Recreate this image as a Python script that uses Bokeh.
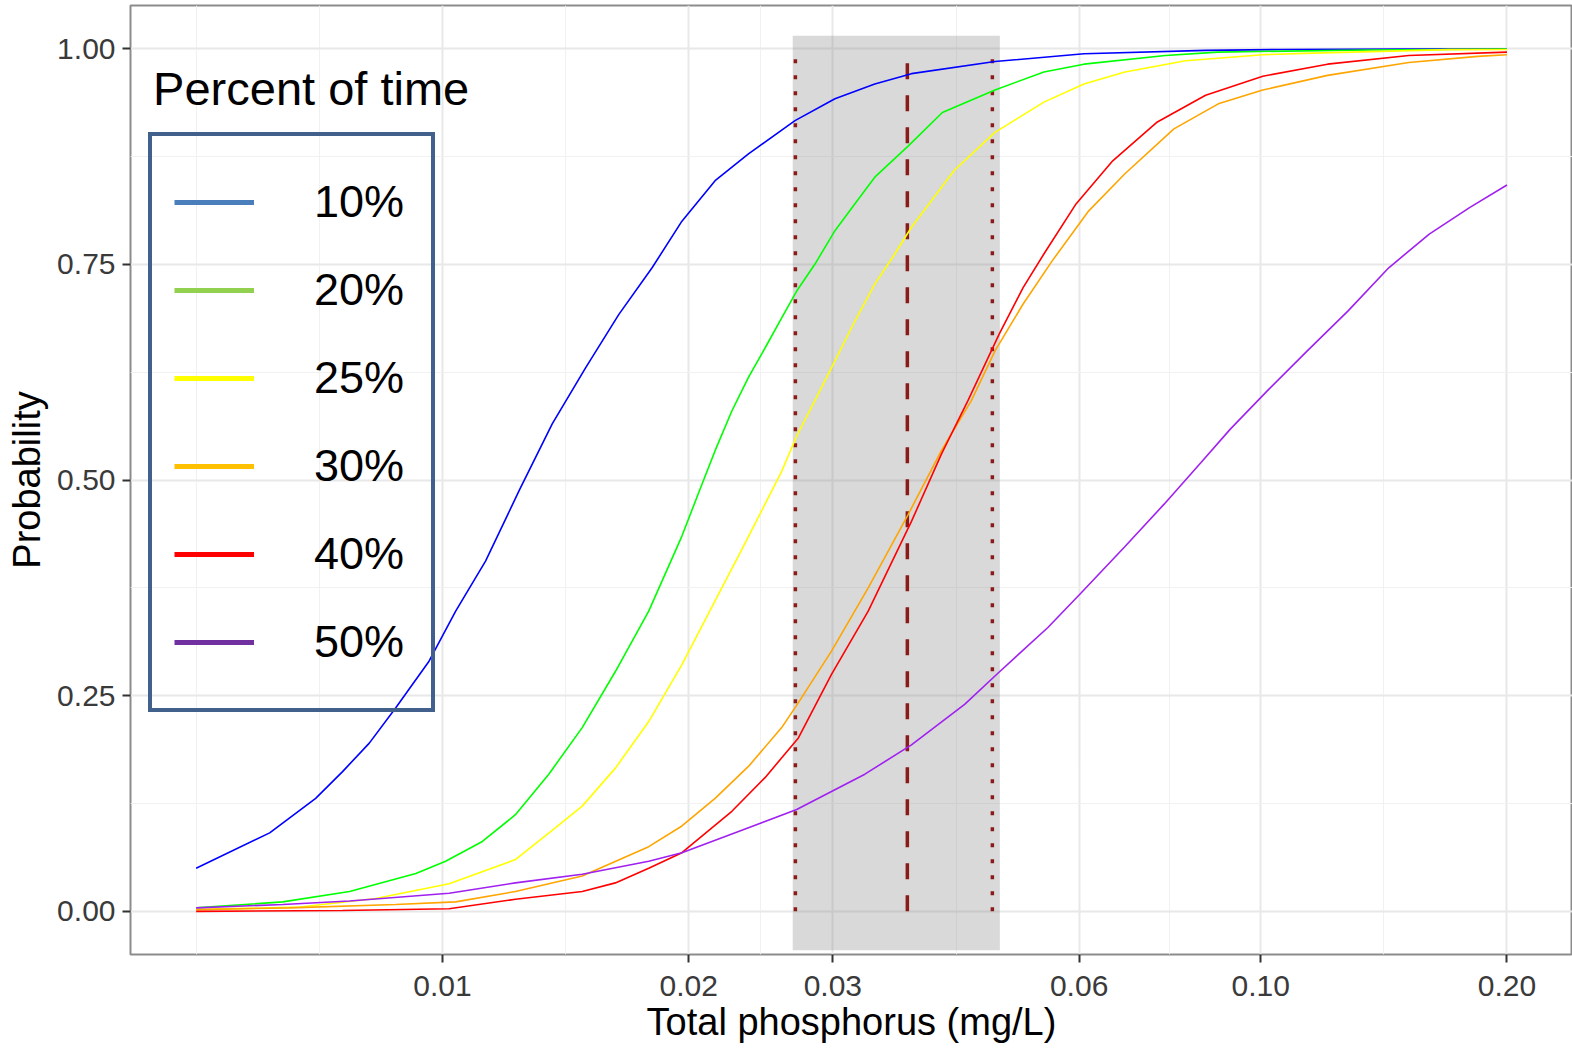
from bokeh.plotting import figure
from bokeh.models import (Range1d, FixedTicker, PrintfTickFormatter, Legend, LegendItem,
                          Label)
from bokeh.embed import file_html
from bokeh.resources import INLINE

# ---------------- data ----------------
series_names = ["10%", "20%", "25%", "30%", "40%", "50%"]

blue_x = [0.005, 0.00615, 0.0070, 0.00755, 0.00814, 0.00877, 0.00963, 0.01038, 0.01129, 0.0124,
          0.01362, 0.01496, 0.01643, 0.01804, 0.01962, 0.02154, 0.02366, 0.02697, 0.03018, 0.03376,
          0.03743, 0.04735, 0.06082, 0.08565, 0.1058, 0.15, 0.2]
blue_y = [0.050, 0.091, 0.131, 0.162, 0.195, 0.236, 0.290, 0.348, 0.406, 0.487,
          0.565, 0.630, 0.692, 0.746, 0.800, 0.847, 0.878, 0.9165, 0.942, 0.959,
          0.971, 0.985, 0.994, 0.998, 0.999, 0.9995, 0.9998]

green_x = [0.005, 0.00638, 0.0077, 0.00928, 0.01009, 0.01119, 0.01228, 0.01349, 0.01482, 0.01627,
           0.01787, 0.01962, 0.02056, 0.02154, 0.02258, 0.02366, 0.02479, 0.02598, 0.0271, 0.02852,
           0.03018, 0.03191, 0.03376, 0.03708, 0.04083, 0.04735, 0.05433, 0.06082, 0.07651, 0.08864,
           0.1354, 0.2]
green_y = [0.004, 0.011, 0.023, 0.044, 0.058, 0.081, 0.112, 0.159, 0.213, 0.278,
           0.348, 0.435, 0.485, 0.534, 0.580, 0.619, 0.653, 0.688, 0.719, 0.750,
           0.789, 0.820, 0.851, 0.887, 0.926, 0.952, 0.973, 0.982, 0.992, 0.996,
           0.9985, 0.9995]

yellow_x = [0.005, 0.0067, 0.00829, 0.01019, 0.01228, 0.01375, 0.01482, 0.01627, 0.01787, 0.01962,
            0.02195, 0.02301, 0.02479, 0.02598, 0.0271, 0.02852, 0.03018, 0.03191, 0.03376, 0.03571,
            0.03743, 0.04223, 0.04735, 0.05433, 0.06082, 0.06825, 0.08096, 0.1006, 0.1128, 0.17, 0.2]
yellow_y = [0.002, 0.005, 0.015, 0.032, 0.060, 0.097, 0.122, 0.166, 0.220, 0.286,
            0.375, 0.412, 0.472, 0.510, 0.551, 0.592, 0.638, 0.684, 0.727, 0.762,
            0.793, 0.859, 0.903, 0.938, 0.959, 0.973, 0.986, 0.993, 0.9945, 0.9988, 0.9990]

orange_x = [0.005, 0.0065, 0.00877, 0.01038, 0.01228, 0.01482, 0.01787, 0.01962, 0.02154, 0.02366,
            0.02598, 0.02723, 0.0299, 0.03314, 0.03708, 0.04072, 0.0443, 0.04737, 0.05125, 0.05562,
            0.06165, 0.06825, 0.07834, 0.08876, 0.1006, 0.1207, 0.1517, 0.1842, 0.2]
orange_y = [0.002, 0.004, 0.008, 0.011, 0.023, 0.041, 0.075, 0.099, 0.131, 0.168,
            0.213, 0.242, 0.302, 0.375, 0.460, 0.534, 0.592, 0.650, 0.704, 0.754,
            0.812, 0.855, 0.907, 0.936, 0.952, 0.969, 0.984, 0.991, 0.993]

red_x = [0.005, 0.00755, 0.01019, 0.01228, 0.01482, 0.01627, 0.01787, 0.01962, 0.02258, 0.02479,
         0.02723, 0.0299, 0.03314, 0.03743, 0.04072, 0.04388, 0.04791, 0.05125, 0.05433, 0.05948,
         0.06595, 0.07477, 0.08565, 0.1006, 0.1207, 0.1517, 0.2]
red_y = [0.000, 0.001, 0.003, 0.014, 0.023, 0.033, 0.050, 0.068, 0.116, 0.155,
         0.201, 0.275, 0.348, 0.452, 0.530, 0.592, 0.669, 0.723, 0.762, 0.820,
         0.870, 0.915, 0.946, 0.968, 0.982, 0.992, 0.996]

purple_x = [0.005, 0.00638, 0.0077, 0.01019, 0.01228, 0.01482, 0.01787, 0.01962, 0.02366, 0.0271,
            0.03283, 0.03743, 0.04347, 0.04774, 0.05495, 0.06032, 0.06813, 0.07621, 0.0845, 0.09181,
            0.1018, 0.1141, 0.1279, 0.1434, 0.1607, 0.1802, 0.2]
purple_y = [0.004, 0.008, 0.012, 0.021, 0.033, 0.043, 0.058, 0.068, 0.097, 0.118,
            0.159, 0.193, 0.240, 0.276, 0.329, 0.369, 0.422, 0.472, 0.520, 0.559,
            0.603, 0.650, 0.696, 0.746, 0.785, 0.816, 0.842]

# threshold band
band_left, band_right = 0.0268, 0.048
band_bottom, band_top = -0.045, 1.015
median_tp = [0.037]
bounds_tp = [0.027, 0.047]

x_ticks = [0.01, 0.02, 0.03, 0.06, 0.10, 0.20]
x_tick_labels = ["0.01", "0.02", "0.03", "0.06", "0.10", "0.20"]
x_minor = [0.005, 0.00707, 0.01414, 0.02449, 0.04243, 0.07746, 0.14142]
y_ticks = [0.0, 0.25, 0.5, 0.75, 1.0]
y_tick_labels = ["0.00", "0.25", "0.50", "0.75", "1.00"]
y_minor = [0.125, 0.375, 0.625, 0.875]

curve_colors = ["#0000ff", "#00ff00", "#ffff00", "#ffa500", "#ff0000", "#a020f0"]
legend_colors = ["#4a7ebb", "#92d050", "#ffff00", "#ffc000", "#ff0000", "#7030a0"]

FONT = "Liberation Sans"
NAN = float("nan")

p = figure(x_axis_type="log", output_backend="svg", toolbar_location=None,
           frame_width=1442, frame_height=949,
           x_range=Range1d(0.004157, 0.2405), y_range=Range1d(-0.05, 1.05),
           min_border_left=130, min_border_right=0, min_border_top=5, min_border_bottom=60)
p.background_fill_color = "white"
p.border_fill_color = "white"
p.outline_line_color = "#8c8c8c"
p.outline_line_width = 2

# axes
p.xaxis.ticker = FixedTicker(ticks=x_ticks, minor_ticks=x_minor)
p.yaxis.ticker = FixedTicker(ticks=y_ticks, minor_ticks=y_minor)
p.xaxis.formatter = PrintfTickFormatter(format="%.2f")
p.yaxis.formatter = PrintfTickFormatter(format="%.2f")
p.xaxis.major_label_overrides = {t: l for t, l in zip(x_ticks, x_tick_labels)}
p.yaxis.major_label_overrides = {t: l for t, l in zip(y_ticks, y_tick_labels)}
for ax in (p.xaxis, p.yaxis):
    ax.axis_line_color = None
    ax.major_tick_line_color = "#333333"
    ax.major_tick_line_width = 2
    ax.major_tick_out = 8
    ax.major_tick_in = 0
    ax.minor_tick_line_color = None
    ax.major_label_text_font = FONT
    ax.major_label_text_font_size = "30px"
    ax.major_label_text_color = "#3a3a3a"
    ax.axis_label_text_font = FONT
    ax.axis_label_text_font_size = "38px"
    ax.axis_label_text_font_style = "normal"
    ax.axis_label_text_color = "black"
p.xaxis.axis_label = "Total phosphorus (mg/L)"
p.yaxis.axis_label = "Probability"
p.xaxis.major_label_standoff = 13
p.yaxis.major_label_standoff = 7
p.xaxis.axis_label_standoff = 2
p.yaxis.axis_label_standoff = 6

# grid
for g in (p.xgrid, p.ygrid):
    g.grid_line_color = "#e8e8e8"
    g.grid_line_width = 2
    g.minor_grid_line_color = "#f1f1f1"
    g.minor_grid_line_width = 1

# shaded band
p.quad(left=[band_left], right=[band_right], bottom=[band_bottom], top=[band_top],
       fill_color="#808080", fill_alpha=0.3, line_color=None)

# vertical reference lines
for xv in bounds_tp:
    p.line(x=[xv, xv], y=[0, 1], line_color="#8b1a1a", line_width=3.5,
           line_dash="4 12", line_cap="butt")
for xv in median_tp:
    p.line(x=[xv, xv], y=[0, 1], line_color="#8b1a1a", line_width=3.5,
           line_dash="16 16", line_cap="butt")

# curves
xs = [blue_x, green_x, yellow_x, orange_x, red_x, purple_x]
ys = [blue_y, green_y, yellow_y, orange_y, red_y, purple_y]
for xx, yy, c in zip(xs, ys, curve_colors):
    p.line(x=xx, y=yy, line_color=c, line_width=1.6)

# legend (overlaid box, like the reference)
items = []
for name, c in zip(series_names, legend_colors):
    r = p.line(x=[NAN, NAN], y=[NAN, NAN], line_color=c, line_width=5)
    items.append(LegendItem(label=name, renderers=[r]))
legend = Legend(items=items, location=(18, 242), orientation="vertical",
                padding=22, spacing=0, margin=0,
                glyph_width=80, glyph_height=88, label_height=88, label_width=95,
                label_standoff=60,
                label_text_font=FONT, label_text_font_size="45px",
                label_text_color="black", label_text_baseline="middle",
                border_line_color="#41618c", border_line_width=4.5, border_line_alpha=1.0,
                background_fill_alpha=0)
p.add_layout(legend)

p.add_layout(Label(x=0.00443, y=0.954, text="Percent of time", text_font=FONT,
                   text_font_size="47px", text_color="black", text_baseline="alphabetic"))

open("out.html", "w").write(file_html(p, INLINE))
